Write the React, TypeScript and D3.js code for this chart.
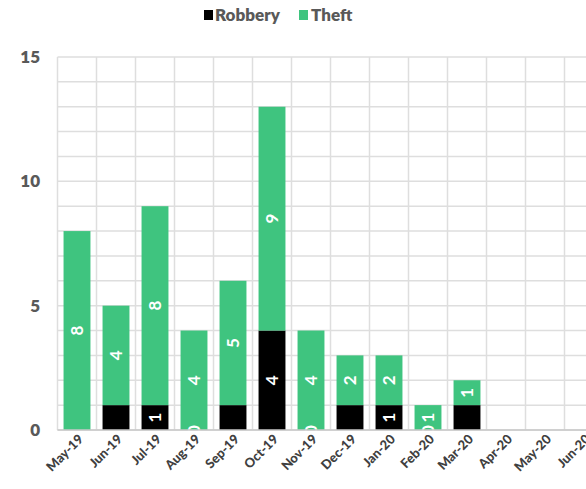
import React from "react";
import * as d3 from "d3";

const months = ["May-19","Jun-19","Jul-19","Aug-19","Sep-19","Oct-19","Nov-19","Dec-19","Jan-20","Feb-20","Mar-20","Apr-20","May-20","Jun-20"];
const robbery: (number | null)[] = [0,1,1,0,1,4,0,1,1,0,1,null,null,null];
const theft: (number | null)[] = [8,4,8,4,5,9,4,2,2,1,1,null,null,null];
const robberyLabelShown = [false,false,true,true,false,true,true,false,true,true,false,false,false,false];
const yTicks = [0,5,10,15];
const gridValues = d3.range(0, 16);

const W = 586, H = 489;
const GREEN = "#3fc47f";
const FONT = "Lato, 'Open Sans', sans-serif";

export default function App() {
  const x = d3.scaleBand<string>().domain(months).range([57.5, 603.5]).paddingInner(0.31).paddingOuter(0.155);
  const y = d3.scaleLinear().domain([0, 15]).range([430, 57]);
  const step = x.step();
  const bw = x.bandwidth();

  return (
    <svg width={W} height={H} style={{ position: "absolute", left: 0, top: 0, background: "#fff" }}>
      {gridValues.map(v => (
        <line key={"h" + v} x1={57.5} x2={W} y1={y(v)} y2={y(v)} stroke="#dedede" strokeWidth={1.5} />
      ))}
      {months.map((m, i) => {
        const gx = 57.5 + i * step;
        return <line key={"v" + m} x1={gx} x2={gx} y1={y(15)} y2={y(0)} stroke="#dedede" strokeWidth={1.5} />;
      })}
      {months.map((m, i) => {
        const r = robbery[i];
        const t = theft[i];
        if (r === null || t === null) return null;
        const x0 = x(m)!;
        const cx = x0 + bw / 2;
        const rTop = y(r);
        const tTop = y(r + t);
        return (
          <g key={m}>
            {r > 0 && <rect x={x0} y={rTop} width={bw} height={y(0) - rTop} fill="#000" />}
            {t > 0 && <rect x={x0} y={tTop} width={bw} height={rTop - tTop} fill={GREEN} />}
            <text transform={`translate(${cx + 6},${(rTop + tTop) / 2}) rotate(-90)`} textAnchor="middle"
              fill="#fff" fontFamily={FONT} fontWeight={700} fontSize={17}>{t}</text>
            {robberyLabelShown[i] && (
              <text transform={`translate(${cx + 6},${(y(0) + rTop) / 2}) rotate(-90)`} textAnchor="middle"
                fill="#fff" fontFamily={FONT} fontWeight={700} fontSize={17}>{r}</text>
            )}
          </g>
        );
      })}
      <line x1={57.5} x2={W} y1={y(0)} y2={y(0)} stroke="#c8c8c8" strokeWidth={1.5} />
      {yTicks.map(v => (
        <text key={"yt" + v} x={40} y={y(v) + 6} textAnchor="end" fill="#595959"
          fontFamily={FONT} fontWeight={800} fontSize={17}>{v}</text>
      ))}
      {months.map(m => {
        const cx = x(m)! + bw / 2;
        return (
          <text key={"xl" + m} transform={`translate(${cx + 7},${440}) rotate(-45)`} textAnchor="end"
            fill="#404040" fontFamily={FONT} fontWeight={900} fontSize={13}>{m}</text>
        );
      })}
      <rect x={204} y={10} width={9} height={10} fill="#000" />
      <text x={215} y={21} fill="#595959" fontFamily={FONT} fontWeight={800} fontSize={17}>Robbery</text>
      <rect x={299} y={10} width={9} height={10} fill={GREEN} />
      <text x={311} y={21} fill="#595959" fontFamily={FONT} fontWeight={800} fontSize={17}>Theft</text>
    </svg>
  );
}
